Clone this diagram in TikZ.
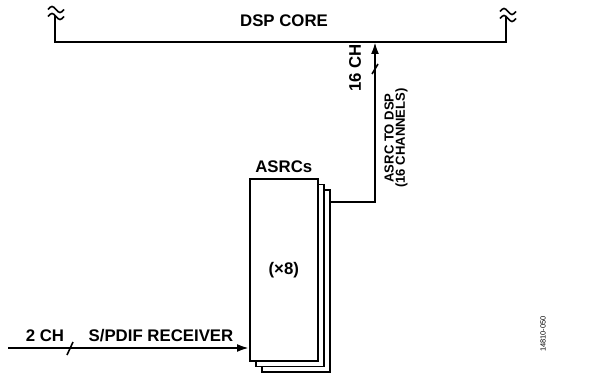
\documentclass[tikz,border=0pt]{standalone}
\usepackage{fontspec}
\setmainfont{Liberation Sans}
\usetikzlibrary{arrows.meta, positioning}

\tikzset{brk/.pic={
  \foreach \dy in {3.5,-3.5} { \draw[line width=1.2pt] (-8,\dy) sin (-4,\dy+3) cos (0,\dy) sin (4,\dy-3) cos (8,\dy); }
}}

\begin{document}
\begin{tikzpicture}[x=0.75pt, y=0.75pt, font=\fontsize{12.6}{13}\selectfont\bfseries,
  wire/.style={line width=1.6pt},
  sig/.style={wire, -{Latex[length=9pt, width=6pt]}},
  asrcbox/.style={draw, line width=1.2pt, fill=white, minimum width=51pt, minimum height=136.5pt, inner sep=0pt, anchor=north west},
  lbl/.style={inner sep=1pt},
  slash/.style={line width=1.2pt}]
\useasboundingbox (0,0) rectangle (589,372);
% dsp core bus
\coordinate (busL) at (55,357); \coordinate (busR) at (506,355);
\coordinate (bustap) at (375,330);
\draw[wire] (busL) |- (bustap) -| (busR);
\pic at (56,359) {brk}; \pic at (508,357) {brk};
\node[lbl] (dsp) at (284,351) {DSP CORE};
% asrc stack
\foreach \i/\d in {3/2, 2/1, 1/0} { \node[asrcbox] (asrc\i) at (249+6*\d,194-5.5*\d) {}; }
\node at (asrc1.center) (times) {(×8)};
\node[lbl, above=3pt of asrc1] (asrclbl) {ASRCs};
% asrc to dsp
\coordinate (asrcout) at (asrc3.north east |- 0,170);
\draw[sig] (asrcout) -| (bustap);
\draw[slash] (372,298) -- (378,308);
\node[lbl, rotate=90] (ch16) at (355,304) {16 CH};
\node[lbl, rotate=90, align=center, font=\fontsize{9.8}{8.5}\selectfont\bfseries] (asrcdsp) at (396,234) {ASRC TO DSP\\(16 CHANNELS)};
% s/pdif in
\coordinate (spdifin) at (8,24);
\draw[sig] (spdifin) -- (asrc1.west |- spdifin);
\draw[slash] (67,17) -- (73,30);
\node[lbl, anchor=base] (ch2) at (45,31) {2 CH};
\node[lbl, anchor=base] (spdif) at (161,31) {S/PDIF RECEIVER};
\node[lbl, rotate=90, font=\fontsize{5.6}{6}\selectfont] (fig) at (543,38) {14810-050};
\end{tikzpicture}
\end{document}
